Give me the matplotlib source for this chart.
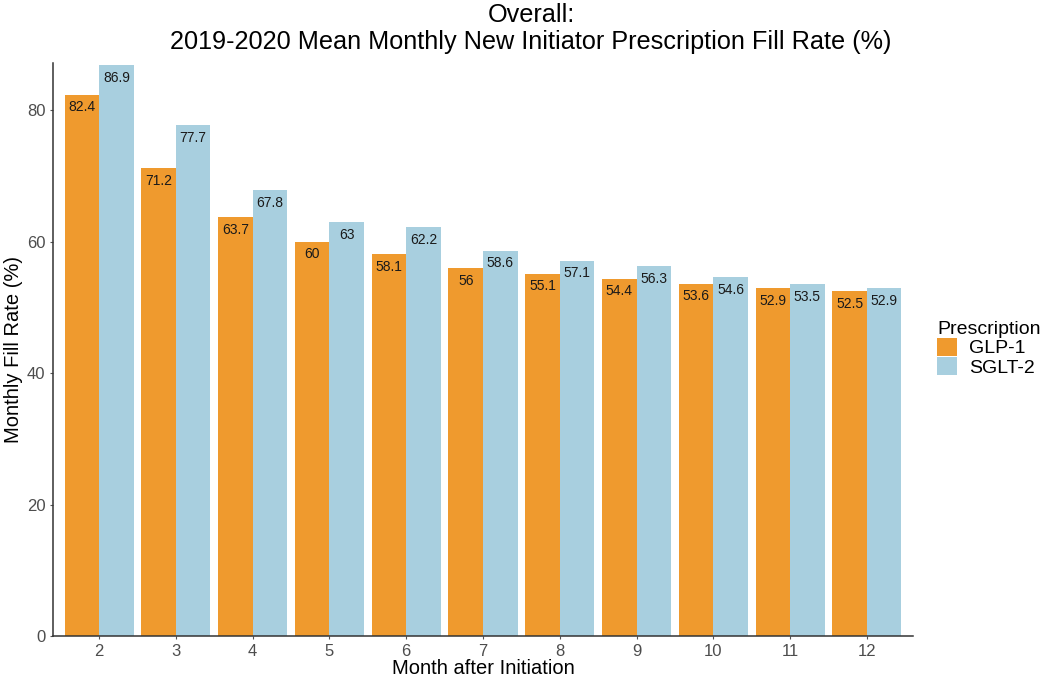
import numpy as np
import matplotlib
matplotlib.use('Agg')
import matplotlib.pyplot as plt

plt.rcParams['font.family'] = ['Liberation Sans', 'DejaVu Sans']

months = [2, 3, 4, 5, 6, 7, 8, 9, 10, 11, 12]
glp1 = [82.4, 71.2, 63.7, 60, 58.1, 56, 55.1, 54.4, 53.6, 52.9, 52.5]
sglt2 = [86.9, 77.7, 67.8, 63, 62.2, 58.6, 57.1, 56.3, 54.6, 53.5, 52.9]
series_names = ['GLP-1', 'SGLT-2']
colors = ['#EF9A2E', '#A8CFDF']

fig = plt.figure(figsize=(10.5, 6.79), dpi=100)
ax = fig.add_axes([53/1050, 1-636/679, (913-53)/1050, (636-63)/679])

x = np.arange(len(months))
w = 0.45
for i, (vals, name, c) in enumerate(zip([glp1, sglt2], series_names, colors)):
    pos = x + (i - 0.5) * w
    ax.bar(pos, vals, width=w, color=c, label=name)
    for p, v in zip(pos, vals):
        ax.annotate(f'{v:g}', (p, v), xytext=(0, -4), textcoords='offset points',
                    ha='center', va='top', fontsize=10, color='#1a1a1a')

ax.set_xlim(-0.6, len(months) - 0.4)
ax.set_ylim(0, 87.2)
ax.set_xticks(x)
ax.set_xticklabels(months)
ax.set_yticks([0, 20, 40, 60, 80])
ax.tick_params(axis='both', length=2, colors='#555555', labelsize=12, labelcolor='#4d4d4d')

for s in ['top', 'right']:
    ax.spines[s].set_visible(False)
for s in ['left', 'bottom']:
    ax.spines[s].set_color('#333333')
    ax.spines[s].set_linewidth(1.1)

ax.set_xlabel('Month after Initiation', fontsize=14.5, labelpad=0)
ax.set_ylabel('Monthly Fill Rate (%)', fontsize=14.5, labelpad=3)
fig.suptitle('Overall:\n2019-2020 Mean Monthly New Initiator Prescription Fill Rate (%)',
             x=531/1050, y=1-3/679, va='top', fontsize=18.2, linespacing=1.15)

handles, labels = ax.get_legend_handles_labels()
leg = fig.legend(handles, labels, title='Prescription', loc='center left',
                 bbox_to_anchor=(937/1050, 1-349/679), frameon=False,
                 fontsize=14, title_fontsize=14, borderpad=0, borderaxespad=0,
                 handlelength=1.05, handleheight=1.0, handletextpad=0.6,
                 labelspacing=0.0)
leg._legend_box.align = 'left'

fig.savefig('out.png', dpi=100)
